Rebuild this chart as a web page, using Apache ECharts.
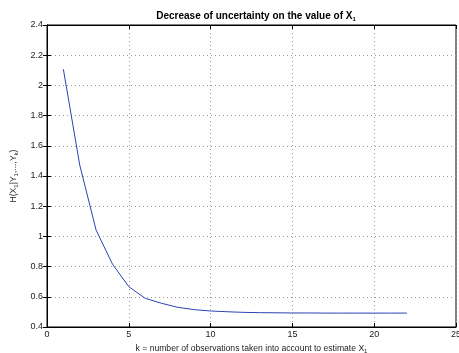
<!DOCTYPE html>
<html>
<head>
<meta charset="utf-8">
<script src="https://cdn.jsdelivr.net/npm/echarts@6/dist/echarts.min.js"></script>
<style>
  html, body { margin: 0; padding: 0; background: #fff; }
  #chart { width: 459px; height: 353px; }
</style>
</head>
<body>
<div id="chart"></div>
<script>
// k = number of observations, H = remaining uncertainty
const kValues = [1, 2, 3, 4, 5, 6, 7, 8, 9, 10, 11, 12, 13, 14, 15, 16, 17, 18, 19, 20, 21, 22];
const hValues = [2.107, 1.473, 1.042, 0.817, 0.667, 0.59, 0.557, 0.53, 0.515, 0.506, 0.501, 0.497,
  0.495, 0.494, 0.493, 0.493, 0.492, 0.492, 0.492, 0.492, 0.492, 0.492];
const xTicks = [0, 5, 10, 15, 20, 25];
const yTicks = [0.4, 0.6, 0.8, 1, 1.2, 1.4, 1.6, 1.8, 2, 2.2, 2.4];

const chart = echarts.init(document.getElementById('chart'));
const font = 'Helvetica, "Liberation Sans", Arial, sans-serif';
const gridLine = { show: true, lineStyle: { color: '#999', type: [1, 3], width: 1 } };
const subStyle = { fontSize: 6, fontFamily: font, color: '#222', padding: [5, 0, 0, 0] };

const option = {
  animation: false,
  title: {
    text: '{b|Decrease of uncertainty on the value of X}{bs|1}',
    left: 251, top: 5, textAlign: 'center',
    textStyle: {
      rich: {
        b: { fontSize: 10, fontWeight: 'bold', fontFamily: font, color: '#000' },
        bs: { fontSize: 6, fontWeight: 'bold', fontFamily: font, color: '#000', padding: [6, 0, 0, 0] }
      }
    }
  },
  grid: {
    left: 47, right: 3, top: 25, bottom: 26, show: true, borderColor: '#000', borderWidth: 1,
    outerBoundsMode: 'none', containLabel: false
  },
  xAxis: [{
    type: 'value', min: 0, max: 25, interval: 5,
    axisLine: { lineStyle: { color: '#000' } },
    axisTick: { inside: true, length: 4, lineStyle: { color: '#000' } },
    axisLabel: {
      fontSize: 9, fontFamily: font, color: '#222', margin: 3,
      formatter: v => xTicks.includes(v) ? String(v) : ''
    },
    splitLine: gridLine,
    name: '{t|k = number of observations taken into account to estimate X}{s|1}',
    nameLocation: 'middle', nameGap: 12,
    nameTextStyle: {
      rich: { t: { fontSize: 8.6, fontFamily: font, color: '#222' }, s: subStyle }
    }
  }, {
    type: 'value', min: 0, max: 25, interval: 5, position: 'top',
    axisLine: { lineStyle: { color: '#000' } },
    axisTick: { inside: true, length: 4, lineStyle: { color: '#000' } },
    axisLabel: { show: false }, splitLine: { show: false }
  }],
  yAxis: [{
    type: 'value', min: 0.4, max: 2.4, interval: 0.2,
    axisLine: { show: true, lineStyle: { color: '#000' } },
    axisTick: { show: true, inside: true, length: 4, lineStyle: { color: '#000' } },
    axisLabel: {
      fontSize: 9, fontFamily: font, color: '#222', margin: 4,
      formatter: v => yTicks.find(t => Math.abs(t - v) < 1e-6) !== undefined ? String(+v.toFixed(1)) : ''
    },
    splitLine: gridLine,
    name: '{t|H(X}{s|1}{t||Y}{s|1}{t|,...,Y}{s|k}{t|)}',
    nameLocation: 'middle', nameGap: 23, nameRotate: 90,
    nameTextStyle: {
      rich: { t: { fontSize: 8.6, fontFamily: font, color: '#222' }, s: subStyle }
    }
  }, {
    type: 'value', min: 0.4, max: 2.4, interval: 0.2, position: 'right',
    axisLine: { show: true, lineStyle: { color: '#000' } },
    axisTick: { show: true, inside: true, length: 4, lineStyle: { color: '#000' } },
    axisLabel: { show: false }, splitLine: { show: false }
  }],
  series: [{
    type: 'line',
    data: kValues.map((k, i) => [k, hValues[i]]),
    symbol: 'none',
    lineStyle: { color: '#2a44b0', width: 1 },
    itemStyle: { color: '#2a44b0' }
  }]
};
chart.setOption(option);
</script>
</body>
</html>
